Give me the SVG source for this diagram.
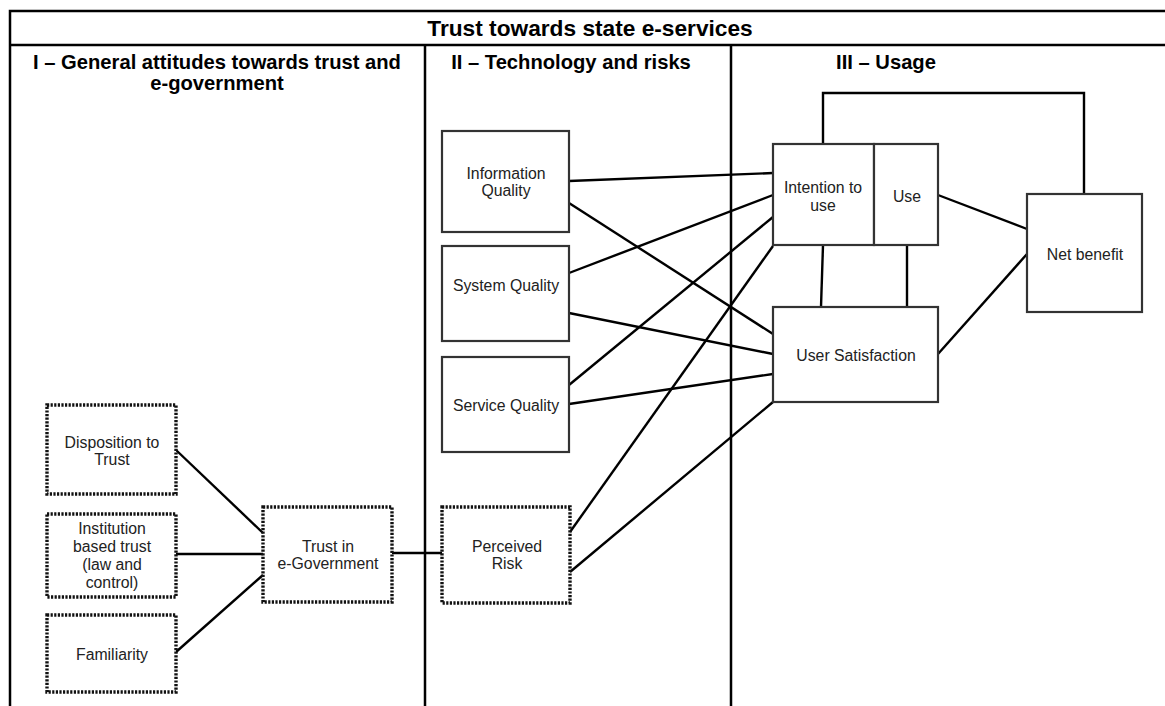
<svg xmlns="http://www.w3.org/2000/svg" width="1165" height="706" viewBox="0 0 1165 706">
<style>
.frame{fill:none;stroke:#000;stroke-width:2.5}
.box{fill:#fff;stroke:#333;stroke-width:2.2}
.dot{fill:#fff;stroke:#111;stroke-width:3.4;stroke-dasharray:2.2 1.4}
.con{fill:none;stroke:#000;stroke-width:2.4}
.t{font-family:"Liberation Sans",Arial,sans-serif;font-size:15.8px;fill:#222;text-anchor:middle;dominant-baseline:central}
.h{font-family:"Liberation Sans",Arial,sans-serif;font-size:20.2px;font-weight:bold;fill:#000;text-anchor:middle;dominant-baseline:central}
.ti{font-family:"Liberation Sans",Arial,sans-serif;font-size:22.7px;font-weight:bold;fill:#000;text-anchor:middle;dominant-baseline:central}
</style>
<rect width="1165" height="706" fill="#fff"/>
<g id="frame">
<path class="frame" d="M10,706 V11 H1165 M10,45 H1165 M425,45 V706 M731,45 V706"/>
<text class="ti" x="590" y="28">Trust towards state e-services</text>
<text class="h" x="217" y="62">I – General attitudes towards trust and</text>
<text class="h" x="217" y="83">e-government</text>
<text class="h" x="571" y="62">II – Technology and risks</text>
<text class="h" x="886" y="62">III – Usage</text>
</g>
<g id="connectors">
<line class="con" x1="176" y1="450" x2="263" y2="533"/>
<line class="con" x1="176" y1="554" x2="263" y2="554"/>
<line class="con" x1="176" y1="652" x2="263" y2="575"/>
<line class="con" x1="392" y1="553" x2="442" y2="553"/>
<line class="con" x1="569" y1="181" x2="773" y2="173"/>
<line class="con" x1="569" y1="203" x2="773" y2="334"/>
<line class="con" x1="569" y1="273" x2="773" y2="195"/>
<line class="con" x1="569" y1="313" x2="773" y2="354"/>
<line class="con" x1="569" y1="385" x2="773" y2="217"/>
<line class="con" x1="569" y1="404" x2="773" y2="374"/>
<line class="con" x1="570" y1="532" x2="773" y2="246"/>
<line class="con" x1="570" y1="572" x2="773" y2="402"/>
<line class="con" x1="823" y1="245" x2="821" y2="307"/>
<line class="con" x1="907" y1="245" x2="907" y2="307"/>
<line class="con" x1="938" y1="195" x2="1027" y2="229"/>
<line class="con" x1="938" y1="354" x2="1027" y2="254"/>
<path class="con" d="M823,144 V93 H1084 V194"/>
</g>
<g id="disposition"><rect class="dot" x="47" y="405" width="129" height="89"/><text class="t" x="112" y="442">Disposition to</text><text class="t" x="112" y="459">Trust</text></g>
<g id="institution"><rect class="dot" x="47" y="514" width="129" height="83"/><text class="t" x="112" y="528">Institution</text><text class="t" x="112" y="546">based trust</text><text class="t" x="112" y="564">(law and</text><text class="t" x="112" y="582">control)</text></g>
<g id="familiarity"><rect class="dot" x="47" y="615" width="129" height="77"/><text class="t" x="112" y="654">Familiarity</text></g>
<g id="trust-egov"><rect class="dot" x="263" y="507" width="129" height="95"/><text class="t" x="328" y="546">Trust in</text><text class="t" x="328" y="563">e-Government</text></g>
<g id="info-quality"><rect class="box" x="442" y="131" width="127" height="101"/><text class="t" x="506" y="173">Information</text><text class="t" x="506" y="190">Quality</text></g>
<g id="system-quality"><rect class="box" x="442" y="246" width="127" height="95"/><text class="t" x="506" y="285">System Quality</text></g>
<g id="service-quality"><rect class="box" x="442" y="357" width="127" height="95"/><text class="t" x="506" y="405">Service Quality</text></g>
<g id="perceived-risk"><rect class="dot" x="442" y="507" width="128" height="96"/><text class="t" x="507" y="546">Perceived</text><text class="t" x="507" y="563">Risk</text></g>
<g id="intention"><rect class="box" x="773" y="144" width="101" height="101"/><text class="t" x="823" y="187">Intention to</text><text class="t" x="823" y="205">use</text></g>
<g id="use"><rect class="box" x="874" y="144" width="64" height="101"/><text class="t" x="907" y="196">Use</text></g>
<g id="user-satisfaction"><rect class="box" x="773" y="307" width="165" height="95"/><text class="t" x="856" y="355">User Satisfaction</text></g>
<g id="net-benefit"><rect class="box" x="1027" y="194" width="115" height="118"/><text class="t" x="1085" y="254">Net benefit</text></g>
</svg>
